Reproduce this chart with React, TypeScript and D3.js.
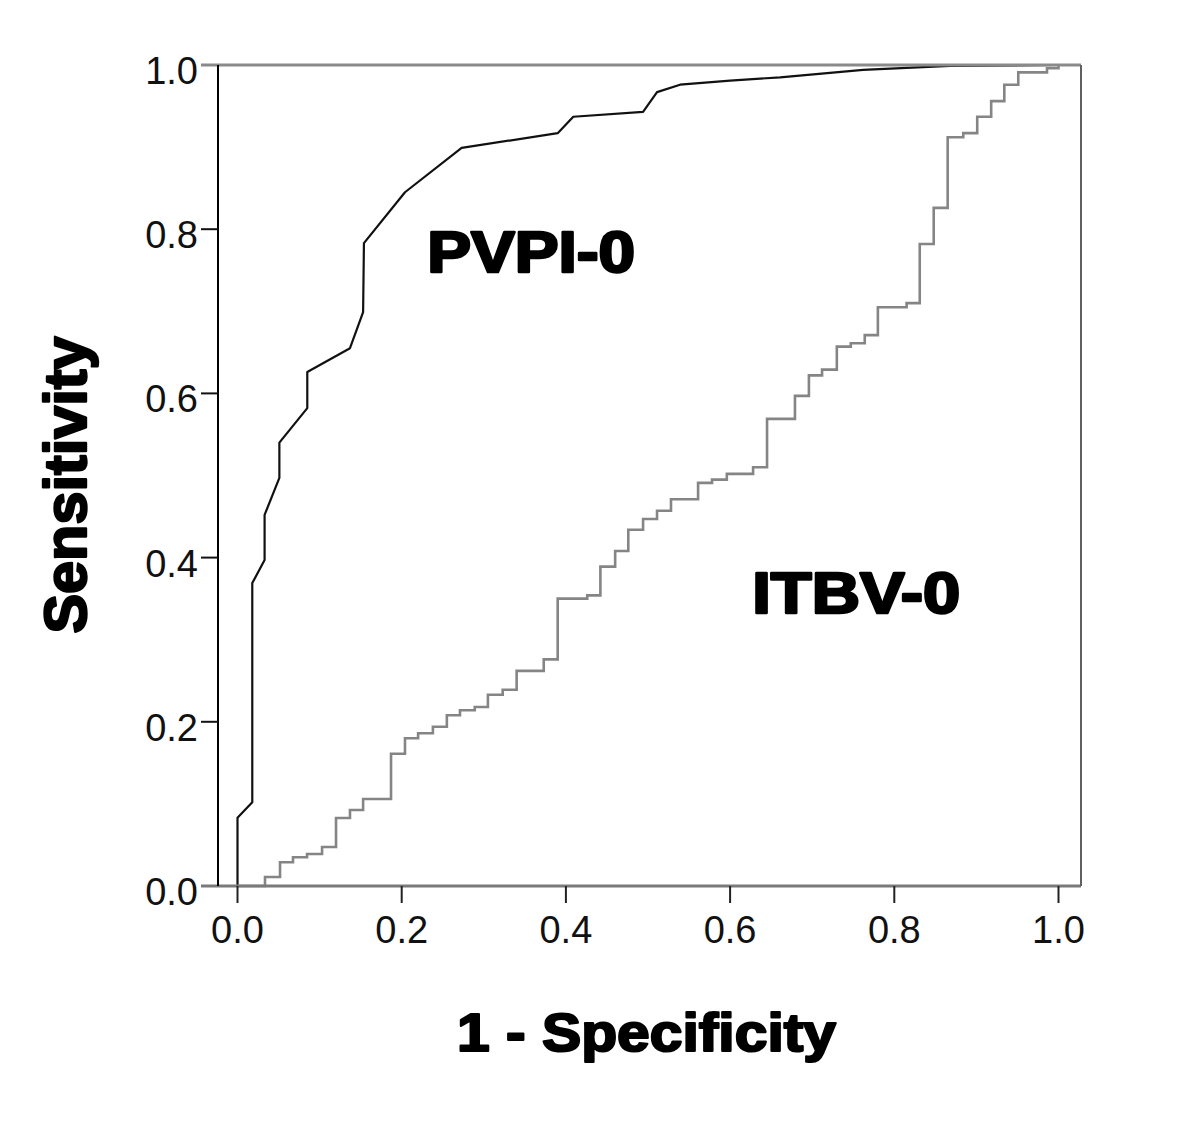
import React from "react";
import * as d3 from "d3";

// ---- Data ----
const pvpiFpr = [0, 0, 0.018, 0.018, 0.033, 0.033, 0.051, 0.051, 0.085, 0.085, 0.137, 0.153, 0.154, 0.204, 0.273, 0.39, 0.409, 0.494, 0.511, 0.539, 0.6, 0.661, 0.762, 0.868, 1];
const pvpiTpr = [0, 0.083, 0.102, 0.369, 0.397, 0.452, 0.497, 0.54, 0.582, 0.626, 0.655, 0.699, 0.783, 0.845, 0.899, 0.917, 0.937, 0.943, 0.967, 0.976, 0.981, 0.985, 0.994, 0.999, 1];

const itbvFpr = [0, 0.0335, 0.0518, 0.0676, 0.0847, 0.103, 0.12, 0.137, 0.153, 0.187, 0.204, 0.22, 0.238, 0.255, 0.271, 0.289, 0.305, 0.323, 0.34, 0.373, 0.39, 0.426, 0.442, 0.46, 0.476, 0.494, 0.511, 0.528, 0.561, 0.578, 0.596, 0.628, 0.645, 0.679, 0.696, 0.712, 0.73, 0.747, 0.764, 0.78, 0.815, 0.831, 0.848, 0.865, 0.884, 0.901, 0.918, 0.934, 0.951, 0.986, 1];
const itbvTpr = [0, 0.011, 0.029, 0.035, 0.039, 0.0475, 0.0828, 0.0926, 0.106, 0.161, 0.18, 0.186, 0.194, 0.208, 0.214, 0.218, 0.233, 0.239, 0.262, 0.276, 0.35, 0.354, 0.389, 0.408, 0.434, 0.447, 0.457, 0.471, 0.491, 0.495, 0.502, 0.51, 0.569, 0.597, 0.622, 0.629, 0.657, 0.661, 0.671, 0.705, 0.71, 0.782, 0.826, 0.912, 0.917, 0.937, 0.956, 0.976, 0.991, 0.996, 1];

const tickValues = [0, 0.2, 0.4, 0.6, 0.8, 1.0];
const tickLabels = ["0.0", "0.2", "0.4", "0.6", "0.8", "1.0"];

const curveLabels = ["PVPI-0", "ITBV-0"];
const curveLabelX = [0.231, 0.627];
const curveLabelY = [0.748, 0.3325];

const xTitle = "1 - Specificity";
const yTitle = "Sensitivity";

// ---- Layout ----
const W = 1200;
const H = 1136;
const frameL = 218;
const frameR = 1081;
const frameT = 65;
const frameB = 886;

export default function App() {
  const x = d3.scaleLinear().domain([0, 1]).range([237.5, 1058.5]);
  const y = d3.scaleLinear().domain([0, 1]).range([886, 65]);

  const pvpiPts: [number, number][] = pvpiFpr.map((f, i) => [f, pvpiTpr[i]]);
  const itbvPts: [number, number][] = itbvFpr.map((f, i) => [f, itbvTpr[i]]);

  const lineLin = d3
    .line<[number, number]>()
    .x((d) => x(d[0]))
    .y((d) => y(d[1]));
  const lineStep = d3
    .line<[number, number]>()
    .x((d) => x(d[0]))
    .y((d) => y(d[1]))
    .curve(d3.curveStepAfter);

  const boldStyle: React.CSSProperties = {
    fontFamily: "'Liberation Sans', Arial, sans-serif",
    fontWeight: 700,
  };

  return (
    <svg
      width={W}
      height={H}
      viewBox={`0 0 ${W} ${H}`}
      style={{ position: "absolute", left: 0, top: 0, background: "#fff" }}
    >
      <rect x={0} y={0} width={W} height={H} fill="#fff" />

      {/* curves */}
      <path d={lineStep(itbvPts) || ""} fill="none" stroke="#858585" strokeWidth={2.6} />
      <path d={lineLin(pvpiPts) || ""} fill="none" stroke="#111" strokeWidth={2.2} strokeLinejoin="round" />

      {/* frame */}
      <line x1={201} x2={frameR} y1={frameT} y2={frameT} stroke="#8a8a8a" strokeWidth={3} />
      <line x1={201} x2={frameR} y1={frameB} y2={frameB} stroke="#7a7a7a" strokeWidth={3} />
      <line x1={frameL} x2={frameL} y1={frameT} y2={frameB} stroke="#000" strokeWidth={2} />
      <line x1={frameR} x2={frameR} y1={frameT} y2={frameB} stroke="#606060" strokeWidth={2} />

      {/* y ticks */}
      {tickValues.map((v, i) => (
        <g key={"y" + i}>
          {v > 0 && v < 1 && (
            <line x1={201} x2={frameL} y1={y(v)} y2={y(v)} stroke="#111" strokeWidth={2} />
          )}
          <text
            x={198}
            y={y(v) + 19}
            textAnchor="end"
            fontSize={38}
            fontFamily="'Liberation Sans', Arial, sans-serif"
            fill="#111"
          >
            {tickLabels[i]}
          </text>
        </g>
      ))}

      {/* x ticks */}
      {tickValues.map((v, i) => (
        <g key={"x" + i}>
          <line x1={x(v)} x2={x(v)} y1={frameB} y2={903} stroke="#222" strokeWidth={2} />
          <text
            x={x(v)}
            y={943}
            textAnchor="middle"
            fontSize={38}
            fontFamily="'Liberation Sans', Arial, sans-serif"
            fill="#111"
          >
            {tickLabels[i]}
          </text>
        </g>
      ))}

      {/* curve labels */}
      {curveLabels.map((t, i) => (
        <text
          key={t}
          x={x(curveLabelX[i])}
          y={y(curveLabelY[i])}
          fontSize={57}
          textLength={208}
          lengthAdjust="spacingAndGlyphs"
          fill="#000"
          stroke="#000"
          strokeWidth={2.6}
          strokeLinejoin="round"
          style={boldStyle}
        >
          {t}
        </text>
      ))}

      {/* axis titles */}
      <text
        x={457}
        y={1051}
        fontSize={53}
        textLength={379}
        lengthAdjust="spacingAndGlyphs"
        fill="#000"
        stroke="#000"
        strokeWidth={2.2}
        strokeLinejoin="round"
        style={boldStyle}
      >
        {xTitle}
      </text>
      <text
        transform={`translate(86, 485) rotate(-90)`}
        x={0}
        y={0}
        textAnchor="middle"
        fontSize={60}
        textLength={297}
        lengthAdjust="spacingAndGlyphs"
        fill="#000"
        stroke="#000"
        strokeWidth={2.4}
        strokeLinejoin="round"
        style={boldStyle}
      >
        {yTitle}
      </text>
    </svg>
  );
}
